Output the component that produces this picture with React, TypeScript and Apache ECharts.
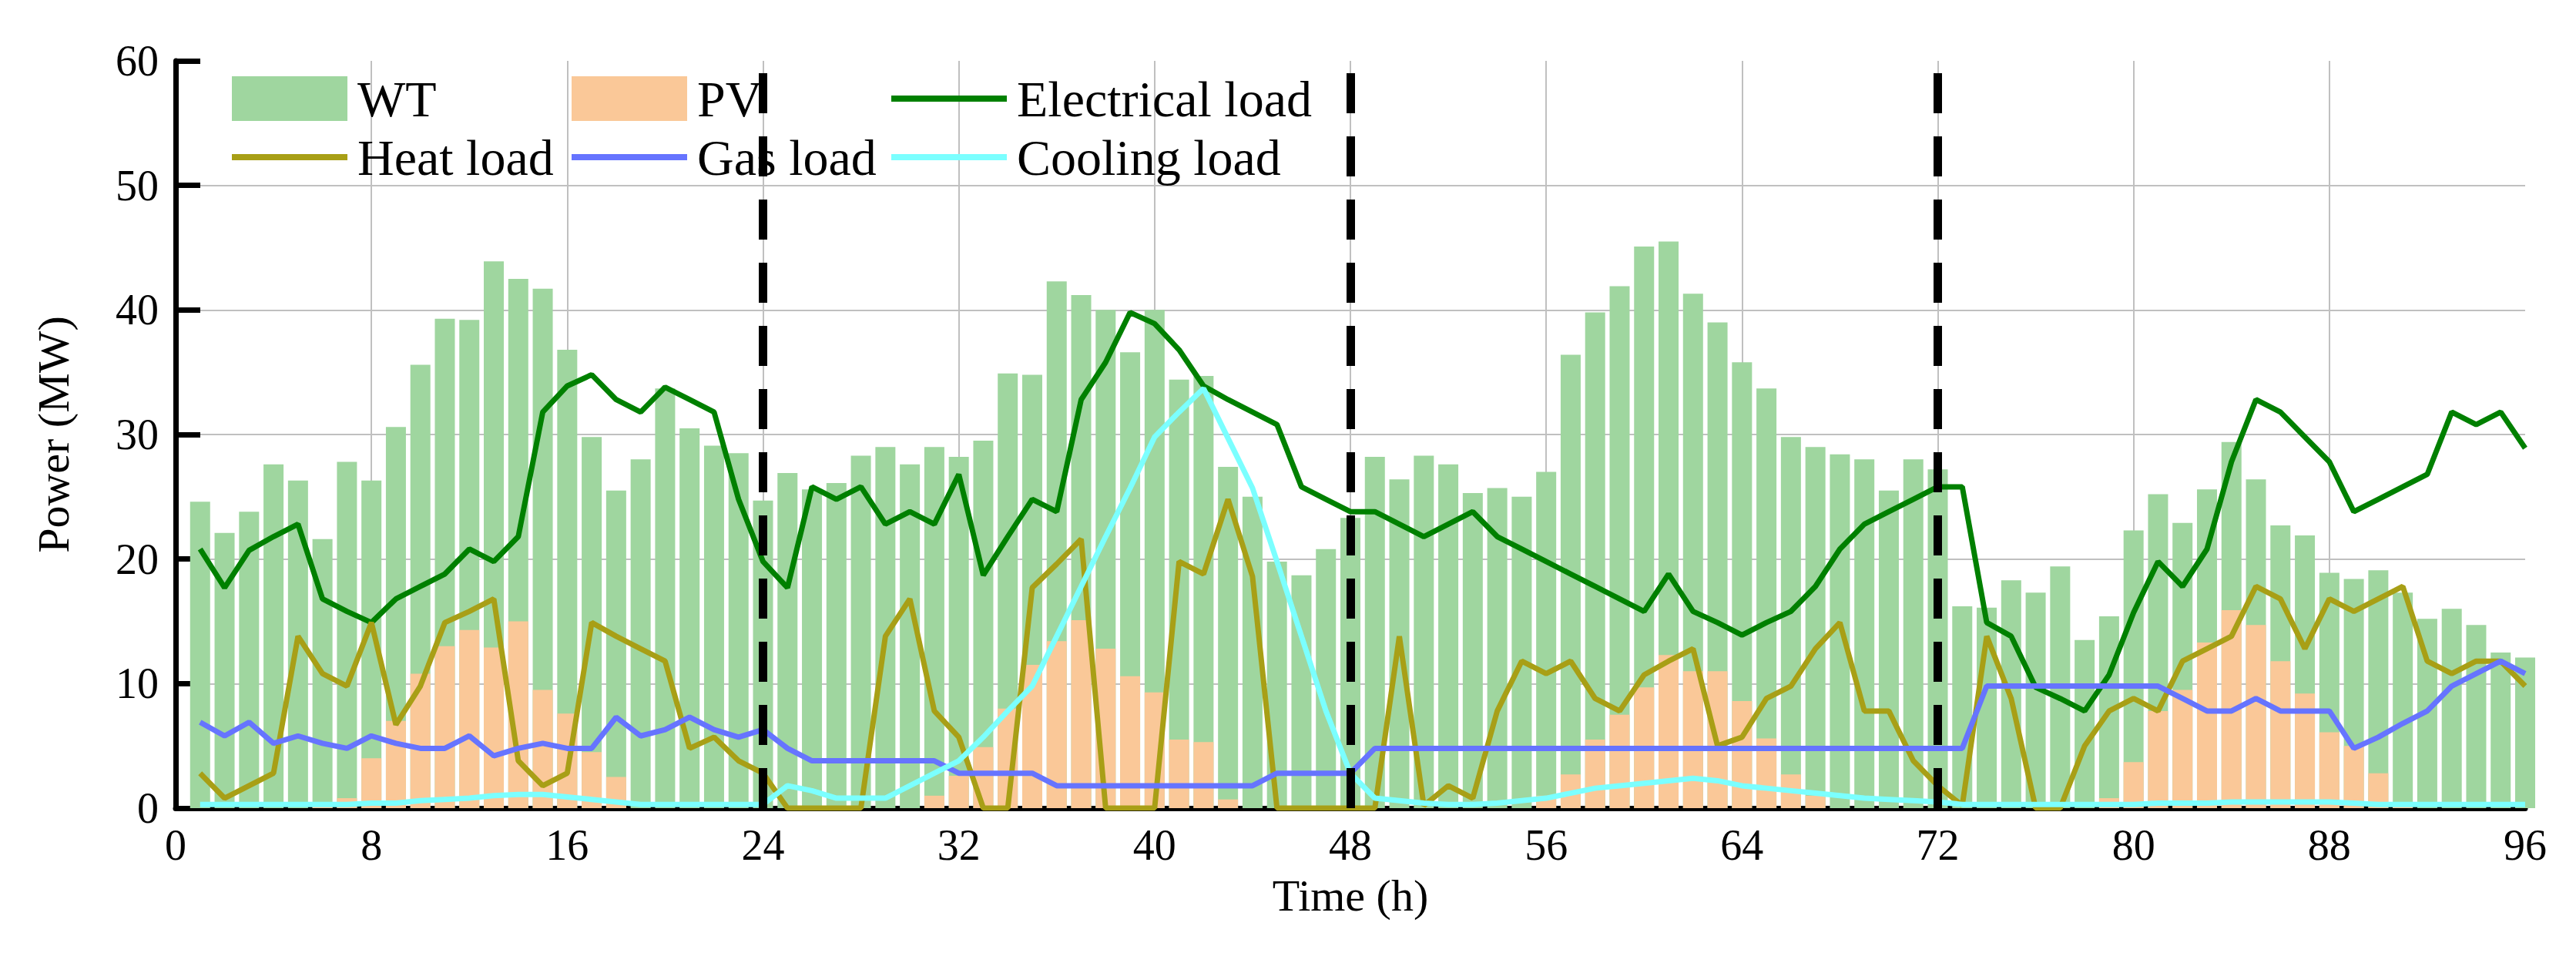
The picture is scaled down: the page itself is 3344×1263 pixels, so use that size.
import { useEffect, useRef } from "react";
import * as echarts from "echarts";

const hours = Array.from({ length: 96 }, (_, i) => i + 1);

const wt = [
  24.6, 22.1, 23.8, 27.6, 26.3, 21.6, 27.8, 26.3, 30.6, 35.6, 39.3, 39.2, 43.9, 42.5, 41.7, 36.8, 29.8, 25.5, 28.0, 33.7, 30.5, 29.1, 28.5, 24.7,
  26.9, 25.6, 26.1, 28.3, 29.0, 27.6, 29.0, 28.2, 29.5, 34.9, 34.8, 42.3, 41.2, 40.0, 36.6, 40.0, 34.4, 34.7, 27.4, 25.0, 19.8, 18.7, 20.8, 23.3,
  28.2, 26.4, 28.3, 27.6, 25.3, 25.7, 25.0, 27.0, 36.4, 39.8, 41.9, 45.1, 45.5, 41.3, 39.0, 35.8, 33.7, 29.8, 29.0, 28.4, 28.0, 25.5, 28.0, 27.2,
  16.2, 16.1, 18.3, 17.3, 19.4, 13.5, 15.4, 22.3, 25.2, 22.9, 25.6, 29.4, 26.4, 22.7, 21.9, 18.9, 18.4, 19.1, 17.3, 15.2, 16.0, 14.7, 12.5, 12.1,
];
const pv = [
  0, 0, 0, 0, 0, 0.3, 0.8, 4.0, 7.0, 10.8, 13.0, 14.3, 12.9, 15.0, 9.5, 7.6, 4.5, 2.5, 0, 0, 0, 0, 0, 0,
  0, 0, 0, 0, 0, 0, 1.0, 2.6, 4.9, 8.0, 11.5, 13.4, 15.1, 12.8, 10.6, 9.3, 5.5, 5.3, 0.7, 0, 0, 0, 0, 0,
  0, 0, 0, 0, 0, 0, 0, 1.0, 2.7, 5.5, 7.5, 9.7, 12.3, 11.0, 11.0, 8.6, 5.6, 2.7, 1.0, 0, 0, 0, 0, 0,
  0, 0, 0, 0, 0, 0, 0.8, 3.7, 7.8, 9.5, 13.3, 15.9, 14.7, 11.8, 9.2, 6.1, 5.0, 2.8, 0.2, 0, 0, 0, 0, 0,
];
const electrical = [
  20.8, 17.7, 20.7, 21.8, 22.8, 16.8, 15.8, 14.9, 16.8, 17.8, 18.8, 20.8, 19.8, 21.8, 31.8, 33.9, 34.8, 32.8, 31.8, 33.8, 32.8, 31.8, 24.8, 19.8,
  17.7, 25.8, 24.8, 25.8, 22.8, 23.8, 22.8, 26.8, 18.7, 21.8, 24.8, 23.8, 32.8, 35.8, 39.8, 38.9, 36.8, 33.9, 32.8, 31.8, 30.8, 25.8, 24.8, 23.8,
  23.8, 22.8, 21.8, 22.8, 23.8, 21.8, 20.8, 19.8, 18.8, 17.8, 16.8, 15.8, 18.8, 15.8, 14.9, 13.9, 14.9, 15.8, 17.8, 20.8, 22.8, 23.8, 24.8, 25.8,
  25.8, 14.9, 13.8, 9.7, 8.8, 7.8, 10.7, 15.7, 19.8, 17.8, 20.8, 27.8, 32.8, 31.8, 29.8, 27.8, 23.8, 24.8, 25.8, 26.8, 31.8, 30.8, 31.8, 28.9,
];
const heat = [
  2.8, 0.8, 1.8, 2.8, 13.8, 10.8, 9.8, 14.9, 6.7, 9.8, 14.9, 15.8, 16.8, 3.8, 1.8, 2.8, 14.9, 13.8, 12.8, 11.8, 4.8, 5.7, 3.8, 2.8,
  0, 0, 0, 0, 13.8, 16.8, 7.8, 5.7, 0, 0, 17.7, 19.6, 21.6, 0, 0, 0, 19.8, 18.8, 24.8, 18.6, 0, 0, 0, 0,
  0, 13.8, 0.2, 1.8, 0.8, 7.8, 11.8, 10.8, 11.8, 8.8, 7.8, 10.7, 11.8, 12.8, 5.0, 5.7, 8.8, 9.8, 12.8, 14.9, 7.8, 7.8, 3.8, 1.8,
  0.2, 13.8, 8.8, 0, 0, 5.0, 7.8, 8.8, 7.8, 11.8, 12.8, 13.8, 17.8, 16.8, 12.8, 16.8, 15.8, 16.8, 17.8, 11.8, 10.8, 11.8, 11.8, 9.8,
];
const gas = [
  6.9, 5.8, 6.9, 5.2, 5.8, 5.2, 4.8, 5.8, 5.2, 4.8, 4.8, 5.8, 4.2, 4.8, 5.2, 4.8, 4.8, 7.3, 5.8, 6.3, 7.3, 6.3, 5.7, 6.3,
  4.8, 3.8, 3.8, 3.8, 3.8, 3.8, 3.8, 2.8, 2.8, 2.8, 2.8, 1.8, 1.8, 1.8, 1.8, 1.8, 1.8, 1.8, 1.8, 1.8, 2.8, 2.8, 2.8, 2.8,
  4.8, 4.8, 4.8, 4.8, 4.8, 4.8, 4.8, 4.8, 4.8, 4.8, 4.8, 4.8, 4.8, 4.8, 4.8, 4.8, 4.8, 4.8, 4.8, 4.8, 4.8, 4.8, 4.8, 4.8,
  4.8, 9.8, 9.8, 9.8, 9.8, 9.8, 9.8, 9.8, 9.8, 8.8, 7.8, 7.8, 8.8, 7.8, 7.8, 7.8, 4.8, 5.7, 6.8, 7.8, 9.8, 10.8, 11.8, 10.8,
];
const cooling = [
  0.3, 0.3, 0.3, 0.3, 0.3, 0.3, 0.3, 0.4, 0.4, 0.6, 0.7, 0.8, 1.0, 1.1, 1.1, 0.9, 0.7, 0.5, 0.3, 0.3, 0.3, 0.3, 0.3, 0.3,
  1.8, 1.4, 0.8, 0.8, 0.8, 1.8, 2.8, 3.8, 5.7, 7.8, 9.8, 13.8, 17.8, 21.8, 25.7, 29.8, 31.8, 33.7, 29.7, 25.7, 19.8, 13.8, 7.8, 2.8,
  0.8, 0.6, 0.4, 0.3, 0.3, 0.4, 0.6, 0.8, 1.2, 1.6, 1.8, 2.0, 2.2, 2.4, 2.2, 1.8, 1.6, 1.4, 1.2, 1.0, 0.8, 0.7, 0.6, 0.5,
  0.3, 0.3, 0.3, 0.3, 0.3, 0.3, 0.3, 0.3, 0.4, 0.4, 0.4, 0.5, 0.5, 0.5, 0.5, 0.5, 0.4, 0.3, 0.3, 0.3, 0.3, 0.3, 0.3, 0.3,
];
const dayBounds = [24, 48, 72];

const font = '"Liberation Serif", "Times New Roman", serif';
const pts = (v: number[]) => v.map((y, i) => [hours[i], y]);
// line legend items: hide the marker, keep a thick line
const lineItem = (name: string) => ({ name, itemStyle: { opacity: 0 }, lineStyle: { width: 8 } });

export default function App() {
  const ref = useRef<HTMLDivElement>(null);

  useEffect(() => {
    document.body.style.margin = "0";
    if (!ref.current) return;
    const chart = echarts.init(ref.current, undefined, { renderer: "svg" });

    const line = (name: string, data: number[], color: string) => ({
      name,
      type: "line",
      data: pts(data),
      symbol: "none",
      lineStyle: { color, width: 7 },
      itemStyle: { color },
      z: 3,
    });

    const legendBase = {
      orient: "vertical",
      itemWidth: 150,
      itemHeight: 58,
      itemGap: 10,
      textStyle: { fontFamily: font, fontSize: 66, color: "#000", padding: [0, 0, 0, 8] },
    };

    chart.setOption({
      animation: false,
      textStyle: { fontFamily: font },
      grid: { left: 228, right: 66, top: 79, bottom: 214 },
      legend: [
        { ...legendBase, left: 292, top: 90, data: [{ name: "WT", icon: "rect" }, lineItem("Heat load")] },
        { ...legendBase, left: 733, top: 90, data: [{ name: "PV", icon: "rect" }, lineItem("Gas load")] },
        { ...legendBase, left: 1148, top: 90, data: [lineItem("Electrical load"), lineItem("Cooling load")] },
      ],
      xAxis: {
        type: "value",
        min: 0,
        max: 96,
        interval: 8,
        name: "Time (h)",
        nameLocation: "middle",
        nameGap: 84,
        nameTextStyle: { fontFamily: font, fontSize: 58, color: "#000" },
        axisLine: { lineStyle: { color: "#000", width: 7 } },
        axisTick: { inside: true, length: 32, lineStyle: { color: "#000", width: 7 } },
        axisLabel: { fontFamily: font, fontSize: 56, color: "#000", margin: 20 },
        splitLine: { showMinLine: false, showMaxLine: false, lineStyle: { color: "#c0c0c0", width: 2 } },
      },
      yAxis: {
        type: "value",
        min: 0,
        max: 60,
        interval: 10,
        name: "Power (MW)",
        nameLocation: "middle",
        nameGap: 130,
        nameTextStyle: { fontFamily: font, fontSize: 58, color: "#000" },
        axisLine: { show: true, lineStyle: { color: "#000", width: 7 } },
        axisTick: { show: true, inside: true, length: 32, lineStyle: { color: "#000", width: 7 } },
        axisLabel: { fontFamily: font, fontSize: 56, color: "#000", margin: 22 },
        splitLine: { showMinLine: false, showMaxLine: false, lineStyle: { color: "#c0c0c0", width: 2 } },
      },
      series: [
        {
          name: "WT",
          type: "bar",
          data: pts(wt),
          barWidth: 26,
          barGap: "-100%",
          itemStyle: { color: "#9fd69f" },
          z: 1,
        },
        {
          name: "PV",
          type: "bar",
          data: pts(pv),
          barWidth: 26,
          barGap: "-100%",
          itemStyle: { color: "#fac898" },
          z: 2,
          markLine: {
            silent: true,
            symbol: "none",
            label: { show: false },
            lineStyle: { color: "#000", width: 11, type: [52, 30] },
            data: dayBounds.map((x) => ({ xAxis: x })),
            z: 5,
          },
        },
        line("Electrical load", electrical, "#008000"),
        line("Heat load", heat, "#a89f16"),
        line("Gas load", gas, "#6674ff"),
        line("Cooling load", cooling, "#7bffff"),
      ],
    });

    return () => chart.dispose();
  }, []);

  return <div ref={ref} style={{ width: 3344, height: 1263 }} />;
}
